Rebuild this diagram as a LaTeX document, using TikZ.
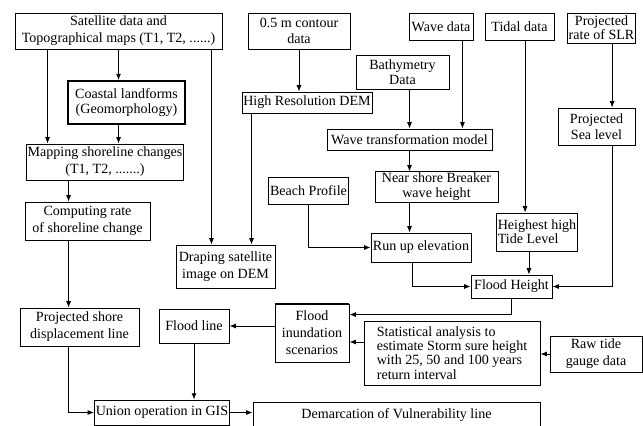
\documentclass[tikz,border=0pt]{standalone}
\usepackage{fontspec}
\setmainfont{Liberation Serif}
\usetikzlibrary{arrows.meta}

\begin{document}
\begin{tikzpicture}[x=0.025cm, y=-0.025cm,
	box/.style={draw, line width=0.6pt, inner sep=1pt, align=center, font=\fontsize{10}{12}\selectfont},
	tight/.style={font=\fontsize{10}{9}\selectfont},
	arr/.style={-{Latex[length=4.5pt, width=3.5pt]}, line width=0.6pt}]
	\useasboundingbox (0,0) rectangle (643,426);

	% left column
	\node [box, minimum width=5.175cm, minimum height=0.9cm] (sat) at (118.5, 31) {Satellite data and\\Topographical maps (T1, T2, ......)};
	\node [box, line width=1.3pt, minimum width=2.925cm, minimum height=1.075cm, font=\fontsize{10}{11}\selectfont] (coast) at (126.5, 102.5) {Coastal landforms\\(Geomorphology)};
	\node [box, minimum width=3.85cm, minimum height=0.9cm] (map) at (105, 162) {Mapping shoreline changes\\(T1, T2, .......)};
	\node [box, minimum width=3.125cm, minimum height=0.95cm] (comp) at (87.5, 221) {Computing rate\\of shoreline change};
	\node [box, minimum width=2.975cm, minimum height=0.95cm] (pshore) at (79.5, 327) {Projected shore\\displacement line};

	% DEM
	\node [box, minimum width=2.55cm, minimum height=0.9cm, font=\fontsize{10}{11.5}\selectfont] (contour) at (299, 31) {0.5 m contour\\data};
	\node [box, minimum width=3.2cm, minimum height=0.525cm] (dem) at (307, 102.5) {High Resolution DEM};
	\node [box, minimum width=2.475cm, minimum height=1.075cm] (drape) at (225.5, 266.5) {Draping satellite\\image on DEM};
	\node [box, minimum width=1.75cm, minimum height=0.85cm] (fline) at (194, 326) {Flood line};

	% wave branch
	\node [box, minimum width=1.6cm, minimum height=0.675cm] (wave) at (441, 26.5) {Wave data};
	\node [box, minimum width=2.325cm, minimum height=0.85cm, font=\fontsize{10}{10.5}\selectfont] (bathy) at (402.5, 72) {Bathymetry\\Data};
	\node [box, minimum width=4.125cm, minimum height=0.525cm] (wtm) at (409.5, 139.5) {Wave transformation model};
	\node [box, minimum width=3.075cm, minimum height=0.75cm, font=\fontsize{10}{10.5}\selectfont] (near) at (436.5, 187) {Near shore Breaker\\wave height};
	\node [box, minimum width=1.975cm, minimum height=0.675cm] (beach) at (308.5, 190.5) {Beach Profile};
	\node [box, minimum width=2.5cm, minimum height=0.725cm] (runup) at (421, 247.5) {Run up elevation};

	% tide and sea level
	\node [box, minimum width=1.725cm, minimum height=0.675cm] (tidal) at (519.5, 26.5) {Tidal data};
	\node [box, tight, minimum width=1.625cm, minimum height=0.75cm] (slr) at (601.5, 28) {Projected\\rate of SLR};
	\node [box, minimum width=1.925cm, minimum height=0.925cm, font=\fontsize{10}{11.5}\selectfont] (psea) at (596.5, 126.5) {Projected\\Sea level};
	\node [box, align=left, minimum width=2cm, minimum height=0.95cm, font=\fontsize{10}{10}\selectfont] (heigh) at (537, 232) {Heighest high\\Tide Level};
	\node [box, minimum width=2.025cm, minimum height=0.575cm] (fheight) at (511.5, 286.5) {Flood Height};

	% bottom
	\node [box, minimum width=1.85cm, minimum height=1.45cm] (inund) at (312, 333) {Flood\\inundation\\scenarios};
	\node [box, tight, align=left, minimum width=4.4cm, minimum height=1.6cm] (stat) at (452, 353) {Statistical analysis to\\estimate Storm sure height\\with 25, 50 and 100 years\\return interval};
	\node [box, minimum width=2.3cm, minimum height=0.9cm] (raw) at (596, 354) {Raw tide\\gauge data};
	\node [box, minimum width=3.35cm, minimum height=0.625cm] (union) at (162, 412.5) {Union operation in GIS};
	\node [box, minimum width=7.175cm, minimum height=0.65cm] (demarc) at (396.5, 415) {Demarcation of Vulnerability line};
	\draw [line width=1.3pt] (inund.north west) -- (inund.north east);
	\draw [line width=1.3pt] (inund.south west) -- (inund.south east);
	\draw [line width=1.3pt] (demarc.north east) -- (demarc.south east);

	% points
	\coordinate (satL) at ([xshift=0.825cm]sat.south west);
	\coordinate (satR) at ([xshift=-0.275cm]sat.south east);
	\coordinate (k1) at ([xshift=1.1cm]comp.north west);
	\coordinate (demL) at ([xshift=0.25cm]dem.south west);
	\coordinate (waveR) at ([xshift=-0.275cm]wave.south east);
	\coordinate (runL) at ([xshift=1.05cm]runup.south west);
	\coordinate (tidB) at ([xshift=0.14cm]tidal.south);
	\coordinate (heighL) at ([xshift=0.825cm]heigh.south west);
	\coordinate (slrB) at ([xshift=-0.6cm]slr.south east);
	\coordinate (inundE) at ([yshift=-0.275cm]inund.north east);
	\coordinate (statW) at ([yshift=0.275cm]stat.west);

	% lines
	\draw [arr] (sat.south) -- (sat.south |- coast.north);
	\draw [arr] (coast.south -| sat.south) -- (map.north -| sat.south);
	\draw [arr] (satL) -- (satL |- map.north);
	\draw [arr] (satR) -- (satR |- drape.north);
	\draw [arr] (map.south -| k1) -- (k1);
	\draw [arr] (comp.south -| k1) -- (pshore.north -| k1);
	\draw [arr] (pshore.south -| k1) |- (union.west);

	\draw [arr] (contour.south) -- (contour.south |- dem.north);
	\draw [arr] (demL) -- (demL |- drape.north);

	\draw [arr] (waveR) -- (waveR |- wtm.north);
	\draw [arr] (bathy.south -| wtm.north) -- (wtm.north);
	\draw [arr] (wtm.south) -- (wtm.south |- near.north);
	\draw [arr] (wtm.south |- near.south) -- (wtm.south |- runup.north);
	\draw [arr] (beach.south) |- (runup.west);
	\draw [arr] (runL) |- (fheight.west);

	\draw [arr] (tidB) -- (tidB |- heigh.north);
	\draw [arr] (heighL) -- (heighL |- fheight.north);
	\draw [arr] (slrB) -- (slrB |- psea.north);
	\draw [arr] (psea.south -| slrB) |- (fheight.east);

	\draw [arr] (fheight.south) |- (inundE);
	\draw [arr] (statW) -- (statW -| inund.east);
	\draw [arr] (fline.east -| inund.west) -- (fline.east);
	\draw [arr] (raw.west) -- (raw.west -| stat.east);
	\draw [arr] (fline.south) -- (fline.south |- union.north);
	\draw [arr] (union.east) -- (union.east -| demarc.west);
\end{tikzpicture}
\end{document}
